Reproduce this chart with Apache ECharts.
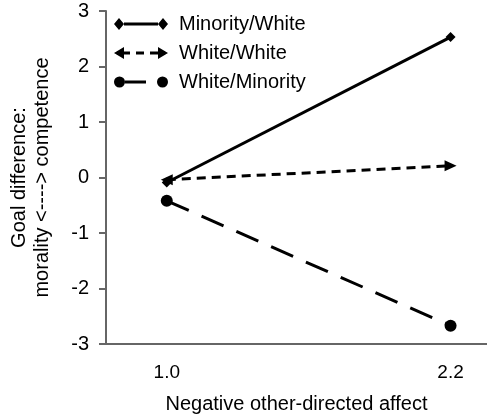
<!DOCTYPE html>
<html><head><meta charset="utf-8">
<script src="https://cdn.jsdelivr.net/npm/echarts@6/dist/echarts.min.js"></script>
<style>html,body{margin:0;padding:0;background:#fff}#c{width:487px;height:419px}</style>
</head><body><div id="c"></div>
<script>
const xValues = [1.0, 2.2];
const xTickLabels = [1.0, 2.2];
const seriesNames = ['Minority/White', 'White/White', 'White/Minority'];
const minorityWhite = [-0.09, 2.53];
const whiteWhite = [-0.04, 0.21];
const whiteMinority = [-0.42, -2.67];

const font = 'Liberation Sans, Arial, sans-serif';
function pts(vals, rot) {
  return vals.map((v, i) => {
    const d = { value: [xValues[i], v] };
    if (rot) d.symbolRotate = rot[i];
    return d;
  });
}
const icons = [
  'path://M0,6L5,0L10,6L5,12ZM10,4.6L44,4.6L44,7.4L10,7.4ZM44,6L49,0L54,6L49,12Z',
  'path://M0,6L10,0L10,12ZM10,4.6L16,4.6L16,7.4L10,7.4ZM22,4.6L30,4.6L30,7.4L22,7.4ZM36,4.6L44,4.6L44,7.4L36,7.4ZM54,6L44,0L44,12Z',
  'path://M0,6A5.5,5.5 0 0 1 11,6A5.5,5.5 0 0 1 0,6ZM11,4.6L32,4.6L32,7.4L11,7.4ZM43,6A5.5,5.5 0 0 1 54,6A5.5,5.5 0 0 1 43,6Z'
];
const chart = echarts.init(document.getElementById('c'));
chart.setOption({
  animation: false,
  textStyle: { fontFamily: font },
  grid: { left: 99, top: 11, right: 0, bottom: 72, containLabel: false },
  legend: {
    left: 109, top: 9, orient: 'vertical', itemGap: 9, itemWidth: 54, itemHeight: 12,
    textStyle: { fontSize: 20, color: '#000', fontFamily: font, padding: [0, 0, 0, 6] },
    data: seriesNames.map((n, i) => ({ name: n, icon: icons[i] }))
  },
  xAxis: {
    type: 'value', min: 0.743, max: 2.354,
    axisLine: { onZero: false, lineStyle: { color: '#666', width: 2 } },
    axisTick: { show: false },
    splitLine: { show: false },
    axisLabel: { customValues: xTickLabels, formatter: v => v.toFixed(1), fontSize: 19, color: '#000', margin: 19 },
    name: 'Negative other-directed affect', nameLocation: 'middle', nameGap: 50,
    nameTextStyle: { fontSize: 20, color: '#000' }
  },
  yAxis: {
    type: 'value', min: -3, max: 3, interval: 1,
    axisLine: { show: true, lineStyle: { color: '#666', width: 2 } },
    axisTick: { show: true, length: 7, lineStyle: { color: '#666', width: 2 } },
    splitLine: { show: false },
    axisLabel: { fontSize: 20, color: '#000', margin: 17 },
    name: 'Goal difference:\nmorality <----> competence', nameLocation: 'middle', nameGap: 52,
    nameTextStyle: { fontSize: 20, color: '#000', lineHeight: 23 }
  },
  series: [
    { name: seriesNames[0], type: 'line', data: pts(minorityWhite), symbol: 'diamond', symbolSize: 10,
      lineStyle: { color: '#000', width: 3 }, itemStyle: { color: '#000' }, z: 3 },
    { name: seriesNames[1], type: 'line', data: pts(whiteWhite, [90, -90]), symbol: 'triangle', symbolSize: [11, 12],
      lineStyle: { color: '#000', width: 3, type: [9, 6] }, itemStyle: { color: '#000' }, z: 2 },
    { name: seriesNames[2], type: 'line', data: pts(whiteMinority), symbol: 'circle', symbolSize: 12,
      lineStyle: { color: '#000', width: 3, type: [24, 14] }, itemStyle: { color: '#000' }, z: 2 }
  ]
});
</script></body></html>
